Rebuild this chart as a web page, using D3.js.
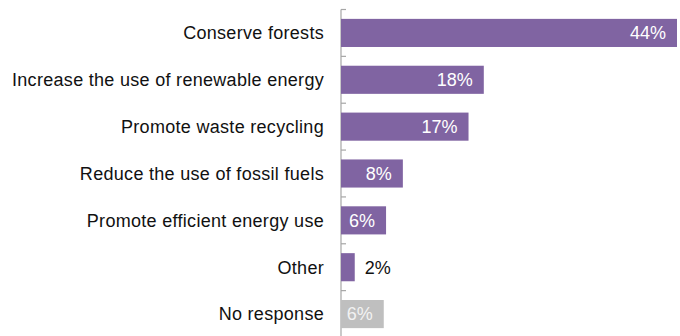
<!DOCTYPE html>
<html>
<head>
<meta charset="utf-8">
<script src="https://cdn.jsdelivr.net/npm/d3@7"></script>
<style>
  body { margin: 0; background: #fff; }
  svg { display: block; font-family: "Liberation Sans", Arial, sans-serif; }
</style>
</head>
<body>
<svg width="680" height="336"></svg>
<script>
const categories = ["Conserve forests", "Increase the use of renewable energy", "Promote waste recycling",
  "Reduce the use of fossil fuels", "Promote efficient energy use", "Other", "No response"]
const values = [44, 18.7, 16.7, 8.1, 5.9, 1.8, 5.6]
const labels = ["44%", "18%", "17%", "8%", "6%", "2%", "6%"]
const barColors = ["#8064a2", "#8064a2", "#8064a2", "#8064a2", "#8064a2", "#8064a2", "#bfbfbf"]

const data = categories.map((c, i) => ({cat: c, val: values[i], label: labels[i], color: barColors[i]}))

let svg = d3.select("svg")

const x = d3.scaleLinear().domain([0, 44]).range([341, 677])
const y = d3.scaleBand().domain(categories).range([9.5, 337.5]).paddingInner(0.4).paddingOuter(0.2)

// axis line with small ticks on the right
let axis = svg.append("g")
axis.append("line")
  .attr("x1", 341).attr("x2", 341)
  .attr("y1", 9.5).attr("y2", 337.5)
  .attr("stroke", "#a6a6a6").attr("stroke-width", 1.2)

const step = y.step()
axis.selectAll(".tick")
  .data(d3.range(categories.length))
  .join("line")
  .attr("class", "tick")
  .attr("x1", 341).attr("x2", 346)
  .attr("y1", i => 9.5 + i * step).attr("y2", i => 9.5 + i * step)
  .attr("stroke", "#a6a6a6").attr("stroke-width", 1.2)

svg.append("g")
  .selectAll("rect")
  .data(data)
  .join("rect")
  .attr("x", x(0))
  .attr("y", d => y(d.cat))
  .attr("width", d => x(d.val) - x(0))
  .attr("height", y.bandwidth())
  .attr("fill", d => d.color)

// category labels
svg.append("g")
  .selectAll("text")
  .data(data)
  .join("text")
  .attr("x", 324)
  .attr("y", d => y(d.cat) + y.bandwidth() / 2)
  .attr("dy", "0.35em")
  .attr("text-anchor", "end")
  .attr("font-size", "18px")
  .attr("letter-spacing", "0.3px")
  .attr("fill", "#111")
  .text(d => d.cat)

// value labels
svg.append("g")
  .selectAll("text")
  .data(data)
  .join("text")
  .attr("x", d => d.val < 4 ? x(d.val) + 10 : x(d.val) - 11)
  .attr("y", d => y(d.cat) + y.bandwidth() / 2)
  .attr("dy", "0.35em")
  .attr("text-anchor", d => d.val < 4 ? "start" : "end")
  .attr("font-size", "18px")
  .attr("fill", d => d.val < 4 ? "#111" : (d.color == "#bfbfbf" ? "#f2f2f2" : "#fff"))
  .text(d => d.label)
</script>
</body>
</html>
